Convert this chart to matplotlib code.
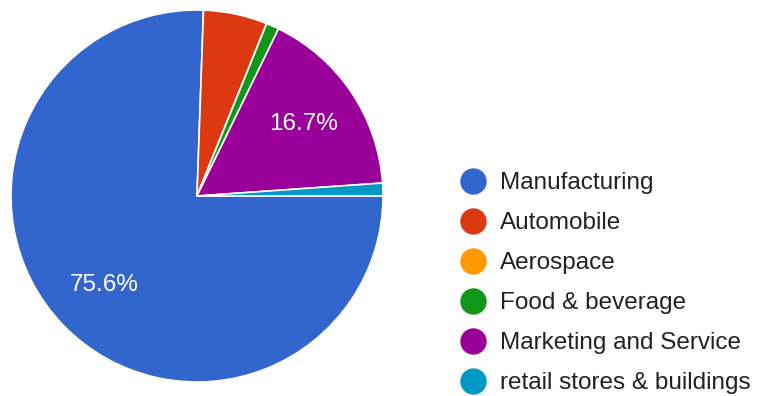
import matplotlib.pyplot as plt
from matplotlib.lines import Line2D

plt.rcParams["font.family"] = ["Liberation Sans", "DejaVu Sans"]

# Number of responses per sector
sectors = ["Manufacturing", "Automobile", "Aerospace", "Food & beverage",
           "Marketing and Service", "retail stores & buildings"]
responses = [68, 5, 0, 1, 15, 1]
colors = ["#3366cc", "#dc3912", "#ff9900", "#109618", "#990099", "#0099c6"]


def pct_label(p):
    # only the big slices get a label
    return "%.1f%%" % p if p > 10 else ""


fig = plt.figure(figsize=(7.57, 3.96), dpi=100)
ax = fig.add_axes([11 / 757, 14 / 396, 372 / 757, 372 / 396])

wedges, texts, autotexts = ax.pie(
    responses, colors=colors, startangle=0, counterclock=False,
    autopct=pct_label, pctdistance=0.69,
    wedgeprops=dict(edgecolor="white", linewidth=1.2),
    textprops=dict(color="white", fontsize=17.5))
ax.set_xlim(-1, 1)
ax.set_ylim(-1, 1)
ax.set_aspect("equal")

handles = [Line2D([], [], marker="o", linestyle="", markersize=18,
                  markerfacecolor=c, markeredgecolor=c) for c in colors]
fig.legend(handles, sectors, loc="center left",
           bbox_to_anchor=(461 / 757, 0.285), frameon=False,
           fontsize=17.5, labelcolor="#222222", handlelength=1.0,
           handletextpad=0.6, labelspacing=0.74, borderpad=0,
           borderaxespad=0)

plt.savefig("out.png", dpi=100)
plt.close("all")
